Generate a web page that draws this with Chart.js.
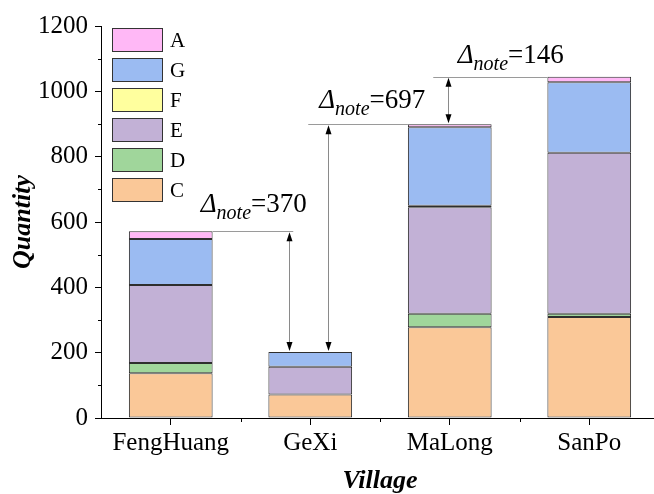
<!DOCTYPE html>
<html>
<head>
<meta charset="utf-8">
<script src="https://cdn.jsdelivr.net/npm/chart.js@4/dist/chart.umd.min.js"></script>
<style>
  html, body { margin: 0; padding: 0; overflow: hidden; background: #fff; }
  #wrap { width: 662px; height: 494px; position: relative; }
</style>
</head>
<body>
<div id="wrap"><canvas id="c"></canvas></div>
<script>
// Village categories and the stacked quantities per group
const villages = ['FengHuang', 'GeXi', 'MaLong', 'SanPo'];
const seriesC = [137, 72, 278, 309];
const seriesD = [31, 0, 41, 10];
const seriesE = [239, 85, 326, 493];
const seriesF = [0, 0, 5, 0];
const seriesG = [141, 45, 240, 216];
const seriesA = [24, 0, 9, 17];
const yTicks = [0, 200, 400, 600, 800, 1000, 1200];

const SERIF = '"Liberation Serif", "Times New Roman", serif';

const groups = [
  { label: 'C', data: seriesC, color: '#FAC898' },
  { label: 'D', data: seriesD, color: '#A0D69B' },
  { label: 'E', data: seriesE, color: '#C2B1D6' },
  { label: 'F', data: seriesF, color: '#FFFF9E' },
  { label: 'G', data: seriesG, color: '#9BBBF2' },
  { label: 'A', data: seriesA, color: '#FFB8F6' }
];

const totals = villages.map((_, i) => groups.reduce((s, g) => s + g.data[i], 0));

// Draws minor ticks, the in-plot legend and the difference annotations
const extras = {
  id: 'extras',
  afterDraw(chart) {
    const ctx = chart.ctx;
    const xs = chart.scales.x, ys = chart.scales.y;
    const area = chart.chartArea;
    ctx.save();

    // minor ticks
    ctx.strokeStyle = '#000';
    ctx.lineWidth = 1;
    ctx.beginPath();
    for (let v = 100; v < 1200; v += 200) {
      const y = Math.round(ys.getPixelForValue(v)) + 0.5;
      ctx.moveTo(area.left - 3, y); ctx.lineTo(area.left, y);
    }
    for (let i = 0; i < villages.length - 1; i++) {
      const x = Math.round((xs.getPixelForValue(i) + xs.getPixelForValue(i + 1)) / 2) + 0.5;
      ctx.moveTo(x, area.bottom); ctx.lineTo(x, area.bottom + 4);
    }
    ctx.stroke();

    // legend (top entry is the last stacked group)
    const ds = chart.data.datasets;
    ctx.font = '21px ' + SERIF;
    ctx.textBaseline = 'middle';
    ctx.textAlign = 'left';
    for (let k = 0; k < ds.length; k++) {
      const d = ds[ds.length - 1 - k];
      const top = 28 + k * 30;
      ctx.fillStyle = d.backgroundColor;
      ctx.fillRect(112, top, 51, 24);
      ctx.strokeStyle = '#333';
      ctx.lineWidth = 1;
      ctx.strokeRect(112.5, top + 0.5, 50, 23);
      ctx.fillStyle = '#000';
      ctx.fillText(d.label, 170, top + 13);
    }

    // difference annotations
    const cw = xs.getPixelForValue(1) - xs.getPixelForValue(0);
    const half = cw * 0.3;
    const cx = i => xs.getPixelForValue(i);
    const ty = i => ys.getPixelForValue(totals[i]);

    function hline(x1, x2, y) {
      ctx.strokeStyle = '#9a9a9a';
      ctx.lineWidth = 1;
      ctx.beginPath();
      ctx.moveTo(x1, Math.round(y) + 0.5); ctx.lineTo(x2, Math.round(y) + 0.5);
      ctx.stroke();
    }
    function head(x, y, dir) {
      ctx.beginPath();
      ctx.moveTo(x, y);
      ctx.lineTo(x - 3, y + dir * 9);
      ctx.lineTo(x + 3, y + dir * 9);
      ctx.closePath();
      ctx.fill();
    }
    function arrow(x, y1, y2) {
      x = Math.round(x) + 0.5;
      ctx.strokeStyle = '#8a8a8a';
      ctx.lineWidth = 1;
      ctx.beginPath();
      ctx.moveTo(x, y1 + 4); ctx.lineTo(x, y2 - 4);
      ctx.stroke();
      ctx.fillStyle = '#000';
      head(x, y1 + 1, 1);
      head(x, y2 - 1, -1);
    }
    function label(x, y, value) {
      ctx.fillStyle = '#000';
      ctx.textBaseline = 'alphabetic';
      ctx.textAlign = 'left';
      ctx.font = 'italic 27px ' + SERIF;
      ctx.fillText('\u0394', x, y);
      let w = ctx.measureText('\u0394').width;
      ctx.font = 'italic 20px ' + SERIF;
      ctx.fillText('note', x + w, y + 7);
      w += ctx.measureText('note').width;
      ctx.font = '27px ' + SERIF;
      ctx.fillText('=' + value, x + w, y);
    }

    // FengHuang vs GeXi
    hline(cx(0) + half, cx(1) - 17, ty(0));
    arrow(cx(1) - 21.5, ty(0), ty(1));
    label(cx(0) + 30, ty(0) - 19, totals[0] - totals[1]);

    // MaLong vs GeXi
    hline(cx(1) - 2, cx(2) - half, ty(2));
    arrow(cx(1) + 17.5, ty(2), ty(1));
    label(cx(1) + 9, ty(2) - 16, totals[2] - totals[1]);

    // SanPo vs MaLong
    hline(cx(2) - 16.5, cx(3) - half, ty(3));
    arrow(cx(2) - 1.5, ty(3), ty(2));
    label(cx(2) + 8, ty(3) - 14, totals[3] - totals[2]);

    ctx.restore();
  }
};

new Chart(document.getElementById('c'), {
  type: 'bar',
  data: {
    labels: villages,
    datasets: groups.map(g => ({
      label: g.label,
      data: g.data,
      backgroundColor: g.color,
      borderColor: '#2e2e2e',
      borderWidth: 1,
      borderSkipped: false,
      categoryPercentage: 1,
      barPercentage: 0.6
    }))
  },
  options: {
    responsive: true,
    maintainAspectRatio: false,
    animation: false,
    layout: { padding: { top: 26, left: 0, right: 3, bottom: 0 } },
    plugins: { legend: { display: false }, tooltip: { enabled: false } },
    scales: {
      x: {
        stacked: true,
        grid: { display: true, drawOnChartArea: false, offset: false, tickLength: 7, color: '#000' },
        border: { display: true, color: '#000', width: 1 },
        ticks: { color: '#000', font: { family: SERIF, size: 25 }, padding: 3, maxRotation: 0 },
        title: { display: true, text: 'Village', color: '#000', font: { family: SERIF, size: 26, style: 'italic', weight: 'bold', lineHeight: 1 }, padding: { top: 0, bottom: 0 } },
        afterFit(s) { s.height = 76; }
      },
      y: {
        stacked: true,
        min: 0, max: 1200,
        afterBuildTicks(s) { s.ticks = yTicks.map(v => ({ value: v })); },
        grid: { display: true, drawOnChartArea: false, tickLength: 6, color: '#000' },
        border: { display: true, color: '#000', width: 1 },
        ticks: { color: '#000', font: { family: SERIF, size: 25 }, padding: 7, callback: v => String(v) },
        title: { display: true, text: 'Quantity', color: '#000', font: { family: SERIF, size: 26, style: 'italic', weight: 'bold', lineHeight: 1 }, padding: { top: 10, bottom: 0 } },
        afterFit(s) { s.width = 101; }
      }
    }
  },
  plugins: [extras]
});
</script>
</body>
</html>
